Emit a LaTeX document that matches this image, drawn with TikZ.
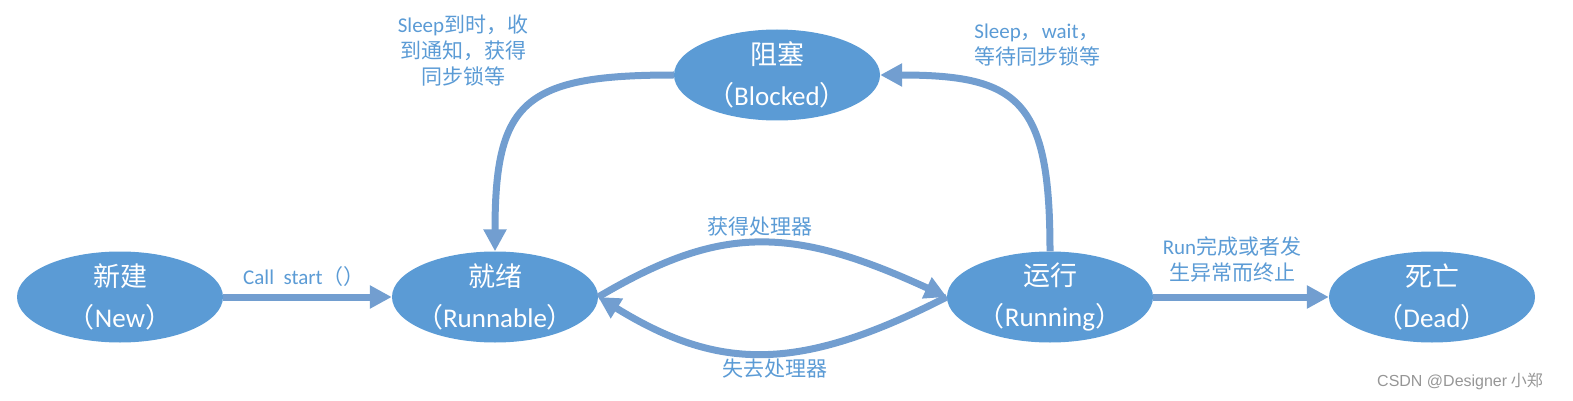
\documentclass[tikz,border=0pt]{standalone}
\usepackage{fontspec}
\setmainfont{Noto Sans CJK SC}
\newfontfamily\enfont{Carlito}
\newfontfamily\wmfont{Liberation Sans}
\newcommand\en[1]{{\enfont #1}}
\usetikzlibrary{positioning,shapes.geometric,arrows.meta}
\definecolor{stateblue}{RGB}{91,155,213}
\definecolor{arrowblue}{RGB}{114,158,208}
\definecolor{textblue}{RGB}{91,155,213}
\definecolor{markgray}{RGB}{150,150,150}

\begin{document}
\begin{tikzpicture}[x=1pt, y=-1pt,
  state/.style={ellipse, fill=stateblue, text=white, minimum width=206pt, minimum height=91pt,
    inner sep=-25pt, align=center, font=\fontsize{27}{41}\selectfont},
  edge/.style={line width=7pt, color=arrowblue, -{Triangle[length=22pt, width=22pt]}},
  lbl/.style={text=textblue, align=center, font=\fontsize{21}{26}\selectfont}
]
\useasboundingbox (0,0) rectangle (1573,401);

\node[state] (new) at (120,297) {新建\\（\en{New}）};
\node[state] (runnable) at (495,297) {就绪\\（\en{Runnable}）};
\node[state] (running) at (1050,297) {运行\\（\en{Running}）};
\node[state] (dead) at (1432,297) {死亡\\（\en{Dead}）};
\node[state] (blocked) at (777,75) {阻塞\\（\en{Blocked}）};

\node[lbl] (lblstart) at (304,277) {\en{Call\ \ start}（）};
\node[lbl] (lblwake) at (463,51) {\en{Sleep}到时，收\\到通知，获得\\同步锁等};
\node[lbl] (lblwait) at (1037,45) {\en{Sleep}，\en{wait}，\\等待同步锁等};
\node[lbl] (lblget) at (760,227) {获得处理器};
\node[lbl] (lbllose) at (775,369) {失去处理器};
\node[lbl] (lblend) at (1232,259) {\en{Run}完成或者发\\生异常而终止};

\node[text=markgray, font=\fontsize{16}{16}\selectfont] (mark) at (1460,381) {{\wmfont CSDN @Designer} 小郑};

\draw[edge] (new) -- (runnable);
\draw[edge] (running) -- (dead);
\draw[edge] (runnable.east) .. controls (720,225) and (790,225) .. (running.west);
\draw[edge] (running.west) .. controls (800,372) and (720,372) .. (runnable.east);
\draw[edge] (blocked.west) .. controls +(-150,0) and +(0,-150) .. (runnable.north);
\draw[edge] (running.north) .. controls +(0,-150) and +(140,0) .. (blocked.east);

\end{tikzpicture}
\end{document}
